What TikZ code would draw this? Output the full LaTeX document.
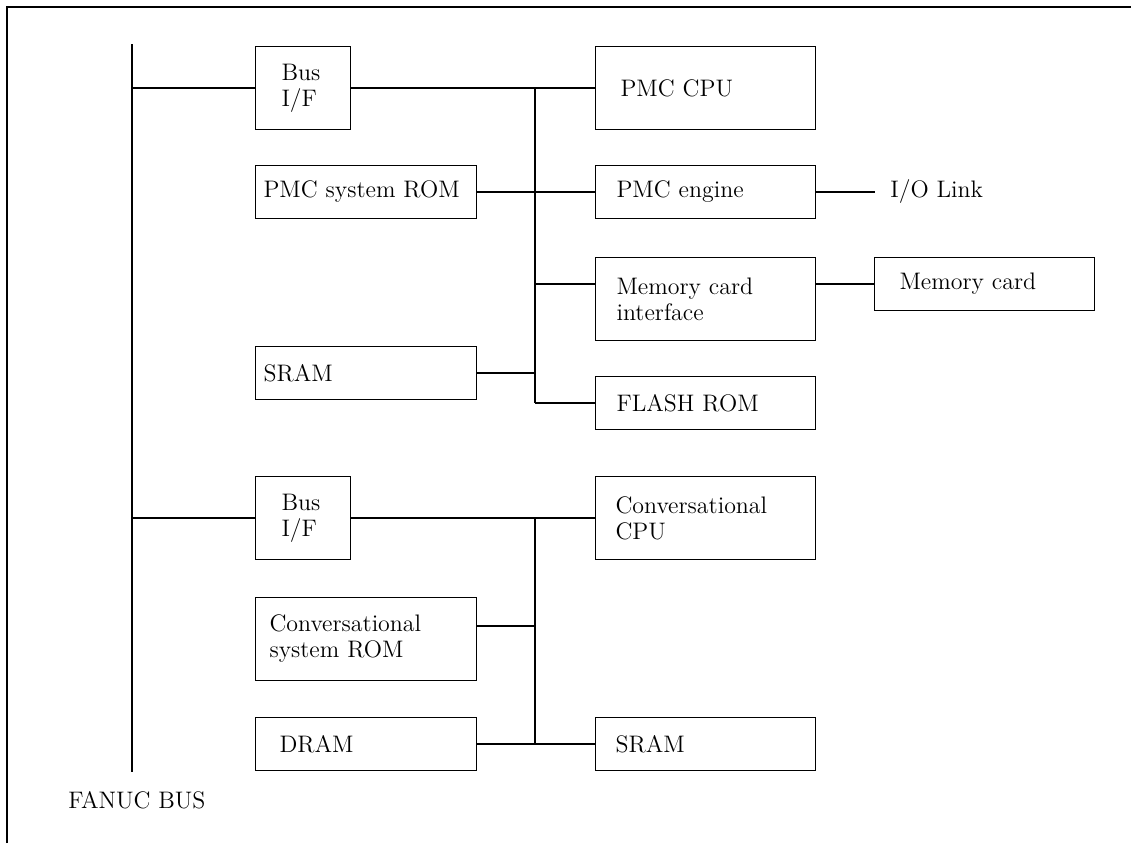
\documentclass[tikz,border=0pt]{standalone}
\usepackage{amsmath}

\begin{document}
\begin{tikzpicture}[
    x=0.02cm,
    y=-0.02cm,
    font=\fontsize{13.6pt}{14.8pt}\selectfont,
    blk/.style={draw, anchor=west, align=left, inner ysep=0pt, line width=0.6pt},
    tall/.style={minimum height=1.66cm},
    flat/.style={minimum height=1.07cm},
    link/.style={line width=0.6pt},
    fbus/.style={line width=1.5pt},
    sbus/.style={line width=1.1pt}
  ]

  \useasboundingbox (0,0) rectangle (1131,843);

  % Rahmen
  \draw[line width=1.2pt] (7,843) -- (7,7) -- (1131,7);

  % FANUC BUS
  \coordinate (fbusTop) at (132,44);
  \coordinate (fbusBot) at (132,772);
  \draw[fbus] (fbusTop) -- (fbusBot);
  \node[anchor=west, inner sep=0pt] (fbusLbl) at (68,800) {FANUC BUS};

  % PMC-Teil
  \node[blk, tall, inner xsep=0.52cm, text width=0.86cm] (bifA) at (255,88) {Bus\\I/F};
  \node[blk, flat, inner xsep=0.16cm, text width=4.1cm] (promA) at (255,192) {PMC system ROM};
  \node[blk, flat, inner xsep=0.16cm, text width=4.1cm] (sramA) at (255,373) {SRAM};
  \node[blk, tall, inner xsep=0.5cm, text width=3.4cm] (pcpu) at (595,88) {PMC CPU};
  \node[blk, flat, inner xsep=0.42cm, text width=3.56cm] (peng) at (595,192) {PMC engine};
  \node[blk, tall, inner xsep=0.42cm, text width=3.56cm] (mci) at (595,299) {Memory card\\interface};
  \node[blk, flat, inner xsep=0.42cm, text width=3.56cm] (flash) at (595,403) {FLASH ROM};
  \node[blk, flat, inner xsep=0.5cm, text width=3.4cm] (mcard) at (874,284) {Memory card};
  \node[anchor=west, inner ysep=0pt, inner xsep=0.3cm] (iolink) at (875,192) {I/O Link};

  \coordinate (subA) at (535,88);
  \draw[sbus] (subA |- pcpu.west) -- (subA |- flash.west);

  \draw[link] (bifA.west) -- (bifA.west -| fbusTop);
  \draw[link] (bifA.east) -- (pcpu.west);
  \draw[link] (promA.east) -- (peng.west);
  \draw[link] (peng.east) -- (iolink.west);
  \draw[link] (subA |- mcard.west) -- (mci.west |- mcard.west);
  \draw[link] (mci.east |- mcard.west) -- (mcard.west);
  \draw[link] (sramA.east) -- (sramA.east -| subA);
  \draw[link] (subA |- flash.west) -- (flash.west);

  % Conversational-Teil
  \node[blk, tall, inner xsep=0.52cm, text width=0.86cm] (bifB) at (255,518) {Bus\\I/F};
  \node[blk, tall, inner xsep=0.28cm, text width=3.86cm] (cprom) at (255,639) {Conversational\\system ROM};
  \node[blk, flat, inner xsep=0.48cm, text width=3.46cm] (dram) at (255,744) {DRAM};
  \node[blk, tall, inner xsep=0.4cm, text width=3.6cm] (ccpu) at (595,518) {Conversational\\CPU};
  \node[blk, flat, inner xsep=0.4cm, text width=3.6cm] (sramB) at (595,744) {SRAM};

  \coordinate (subB) at (535,518);
  \draw[sbus] (subB |- ccpu.west) -- (subB |- sramB.west);

  \draw[link] (bifB.west) -- (bifB.west -| fbusTop);
  \draw[link] (bifB.east) -- (ccpu.west);
  \draw[link] ([yshift=0.26cm]cprom.east) -- ([yshift=0.26cm]cprom.east -| subB);
  \draw[link] (dram.east) -- (sramB.west);

\end{tikzpicture}
\end{document}
